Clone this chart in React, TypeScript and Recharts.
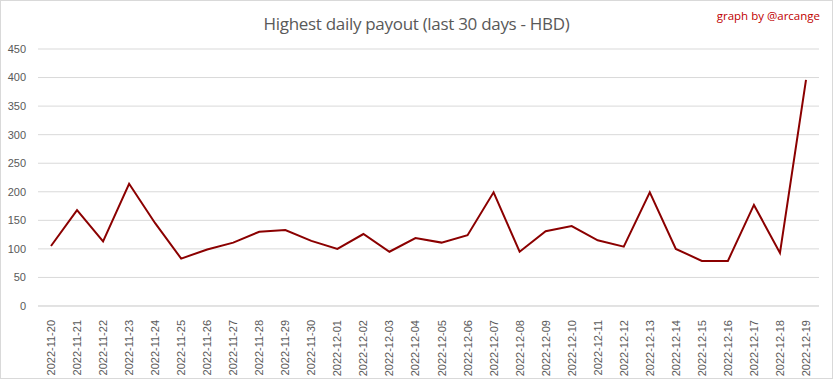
import React from "react";
import { LineChart, Line, XAxis, YAxis, CartesianGrid } from "recharts";

const dates = [
  "2022-11-20", "2022-11-21", "2022-11-22", "2022-11-23", "2022-11-24",
  "2022-11-25", "2022-11-26", "2022-11-27", "2022-11-28", "2022-11-29",
  "2022-11-30", "2022-12-01", "2022-12-02", "2022-12-03", "2022-12-04",
  "2022-12-05", "2022-12-06", "2022-12-07", "2022-12-08", "2022-12-09",
  "2022-12-10", "2022-12-11", "2022-12-12", "2022-12-13", "2022-12-14",
  "2022-12-15", "2022-12-16", "2022-12-17", "2022-12-18", "2022-12-19",
];

const payouts = [
  105, 168, 113, 214, 145, 83, 99, 111, 130, 133,
  114, 100, 126, 95, 119, 111, 124, 199, 95, 131,
  140, 115, 104, 199, 100, 79, 79, 177, 93, 396,
];

const yTicks = [0, 50, 100, 150, 200, 250, 300, 350, 400, 450];

const data = dates.map((d, i) => ({ date: d, value: payouts[i] }));

const FONT = "'Liberation Sans', Arial, sans-serif";

function DateTick(props: any) {
  const { x, y, payload } = props;
  return (
    <text
      x={0}
      y={0}
      transform={`translate(${x + 4},${y + 6}) rotate(-90)`}
      textAnchor="end"
      fill="#595959"
      fontSize={11}
      fontFamily={FONT}
    >
      {payload.value}
    </text>
  );
}

export default function App() {
  return (
    <div
      style={{
        position: "absolute",
        left: 0,
        top: 0,
        width: 833,
        height: 379,
        boxSizing: "border-box",
        border: "1px solid #d9d9d9",
        background: "#fff",
        fontFamily: FONT,
      }}
    >
      <div
        style={{
          position: "absolute",
          top: 11,
          left: 0,
          width: 831,
          textAlign: "center",
          fontSize: 17,
          color: "#595959",
          fontFamily: "'Open Sans', sans-serif",
          letterSpacing: -0.3,
        }}
      >
        Highest daily payout (last 30 days - HBD)
      </div>
      <div
        style={{
          position: "absolute",
          top: 7,
          right: 12,
          fontSize: 11.5,
          color: "#c00000",
          fontFamily: "'Open Sans', sans-serif",
        }}
      >
        graph by @arcange
      </div>
      <LineChart
        width={831}
        height={377}
        data={data}
        margin={{ top: 48, right: 13, left: 7, bottom: 7 }}
        style={{ position: "absolute", left: 0, top: 0 }}
      >
        <CartesianGrid vertical={false} stroke="#d9d9d9" strokeWidth={1} />
        <XAxis
          dataKey="date"
          interval={0}
          tick={<DateTick />}
          tickLine={false}
          axisLine={{ stroke: "#d9d9d9" }}
          height={65}
          padding={{ left: 13, right: 13 }}
        />
        <YAxis
          domain={[0, 450]}
          ticks={yTicks}
          width={30}
          tickLine={false}
          axisLine={false}
          tickSize={0}
          tickMargin={12}
          tick={{ fill: "#595959", fontSize: 11, fontFamily: FONT }}
        />
        <Line
          type="linear"
          dataKey="value"
          stroke="#8b0000"
          strokeWidth={2}
          dot={false}
          isAnimationActive={false}
        />
      </LineChart>
    </div>
  );
}
